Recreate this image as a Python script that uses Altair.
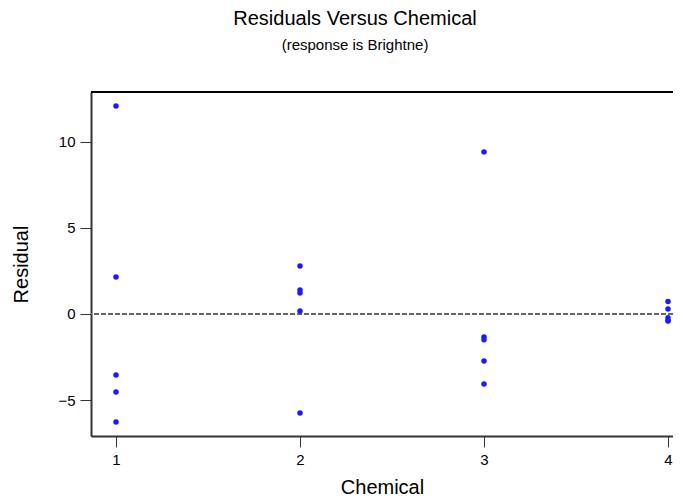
import altair as alt
import pandas as pd

chemical = [1, 1, 1, 1, 1,
            2, 2, 2, 2, 2,
            3, 3, 3, 3, 3,
            4, 4, 4, 4, 4]
residual = [12.09, 2.15, -3.55, -4.53, -6.28,
            2.79, 1.40, 1.22, 0.17, -5.76,
            9.42, -1.34, -1.50, -2.73, -4.07,
            0.72, 0.29, -0.22, -0.38, -0.41]

df = pd.DataFrame({"Chemical": chemical, "Residual": residual})
FONT = "Liberation Sans, Arial, sans-serif"

X_MIN, X_MAX = 0.864, 4.0272
Y_MIN, Y_MAX = -7.09, 12.9

xscale = alt.Scale(domain=[X_MIN, X_MAX], nice=False, zero=False)
yscale = alt.Scale(domain=[Y_MIN, Y_MAX], nice=False, zero=False)

axis_common = dict(grid=False, tickSize=11, tickColor="#333", domainColor="#333",
                   domainWidth=2, labelFontSize=15, titleFontSize=20,
                   titleFontWeight="normal", labelColor="black", titleColor="black",
                   labelFont=FONT, titleFont=FONT, format="d", labelFlush=False)

pts = alt.Chart(df).mark_circle(size=30, color="#1a1aff", opacity=1).encode(
    x=alt.X("Chemical:Q", scale=xscale,
            axis=alt.Axis(values=[1, 2, 3, 4], title="Chemical",
                          labelPadding=5, titlePadding=10, **axis_common)),
    y=alt.Y("Residual:Q", scale=yscale,
            axis=alt.Axis(values=[-5, 0, 5, 10], title="Residual",
                          labelPadding=5, titlePadding=26, **axis_common)),
)

zero_rule = alt.Chart(df).mark_rule(color="#666", strokeDash=[5, 2], strokeWidth=1).encode(
    y=alt.datum(0)
)
top_rule = alt.Chart(df).mark_rule(color="black", strokeWidth=1).encode(
    y=alt.datum(Y_MAX)
)

chart = alt.layer(zero_rule, top_rule, pts).properties(
    width=582,
    height=344,
    autosize=alt.AutoSizeParams(type="none"),
    padding={"left": 83, "top": 84, "right": 0, "bottom": 65},
    title=alt.TitleParams(
        text="Residuals Versus Chemical",
        subtitle="(response is Brightne)",
        font=FONT, subtitleFont=FONT,
        fontSize=20, subtitleFontSize=15,
        fontWeight="normal", color="black", subtitleColor="black",
        anchor="middle", dx=-27, offset=39, subtitlePadding=9,
    ),
).configure_view(strokeWidth=0).configure(background="white")

chart.save("out.html", embed_options={"renderer": "svg", "actions": False})
